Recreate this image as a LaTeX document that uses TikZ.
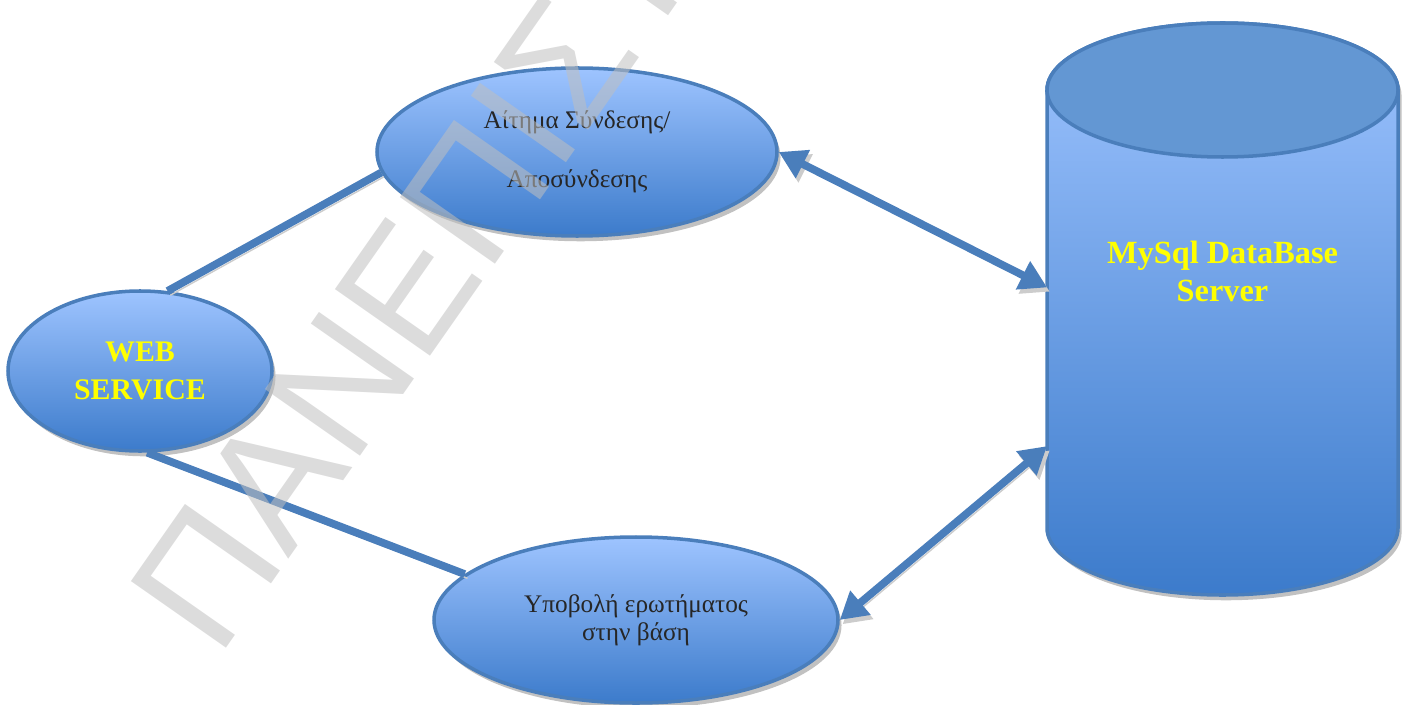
\documentclass[tikz,border=0pt]{standalone}
\usepackage{fontspec}
\setmainfont{Liberation Serif}
\newfontfamily\markfont{Liberation Sans}
\usetikzlibrary{shapes.geometric,shadows,arrows.meta}

\definecolor{linkblue}{RGB}{74,126,187}
\definecolor{lightblue}{RGB}{158,196,255}
\definecolor{deepblue}{RGB}{60,123,203}
\definecolor{capblue}{RGB}{99,151,211}
\definecolor{labelyellow}{RGB}{255,255,0}

\begin{document}
\begin{tikzpicture}[
    bubble/.style={ellipse, draw=linkblue, line width=1pt, top color=lightblue, bottom color=deepblue,
        inner sep=0pt, align=center, text=black!85, font=\fontsize{7.2}{8}\selectfont,
        drop shadow={shadow xshift=1pt, shadow yshift=-1.5pt, fill=black!35, opacity=0.7}},
    link/.style={draw=linkblue, line width=2.2pt,
        preaction={draw=black!20, transform canvas={xshift=0.8pt, yshift=-1.2pt}}},
    both/.style={link, {Triangle[length=0.27cm, width=0.3cm]}-{Triangle[length=0.27cm, width=0.3cm]}}
]
    \useasboundingbox (0,0) rectangle (14.04,7.04);

    % Web service
    \node[bubble, minimum width=2.64cm, minimum height=1.6cm, text=labelyellow,
        font=\bfseries\fontsize{8.5}{10.8}\selectfont] (web) at (1.40,3.33) {WEB\\SERVICE};

    % Aitima syndesis / aposyndesis
    \node[bubble, minimum width=4cm, minimum height=1.68cm] (conn) at (5.77,5.52)
        {Αίτημα Σύνδεσης/\\[8.8pt]Αποσύνδεσης};

    % Ypovoli erotimatos
    \node[bubble, minimum width=4.04cm, minimum height=1.66cm] (query) at (6.36,0.84)
        {Υποβολή ερωτήματος\\στην βάση};

    % Vasi dedomenon (kylindros)
    \node[minimum width=3.51cm, minimum height=4.38cm, inner sep=0pt, outer sep=0pt] (db) at (12.225,3.95) {};
    \path[draw=linkblue, line width=1pt, top color=lightblue, bottom color=deepblue,
        drop shadow={shadow xshift=1pt, shadow yshift=-1.5pt, fill=black!35, opacity=0.7}]
        (db.north west) -- (db.south west) arc[start angle=180, end angle=360, x radius=1.755cm, y radius=0.67cm]
        -- (db.north east) arc[start angle=0, end angle=180, x radius=1.755cm, y radius=0.67cm] -- cycle;
    \filldraw[draw=linkblue, line width=1pt, fill=capblue] (db.north) ellipse[x radius=1.755cm, y radius=0.67cm];
    \node[text=labelyellow, align=center, font=\bfseries\fontsize{9.2}{10.8}\selectfont] (dbname)
        at ([yshift=0.38cm]db.center) {MySql DataBase\\Server};

    % Syndeseis
    \draw[link] (web.71) -- (conn.186);
    \draw[link] (web.275) -- (query.165);
    \draw[both] (conn.east) -- (db.173);
    \draw[both] (query.east) -- (db.218);

    % Ydatografima
    \begin{scope}
        \clip (0,0) rectangle (14.04,7.04);
        \node[rotate=55, anchor=base west, inner sep=0pt, text=black!25, opacity=0.55,
            font=\markfont\fontsize{48}{48}\selectfont] (mark) at (2.18,0.44) {ΠΑΝΕΠΙΣΤ};
    \end{scope}
\end{tikzpicture}
\end{document}
